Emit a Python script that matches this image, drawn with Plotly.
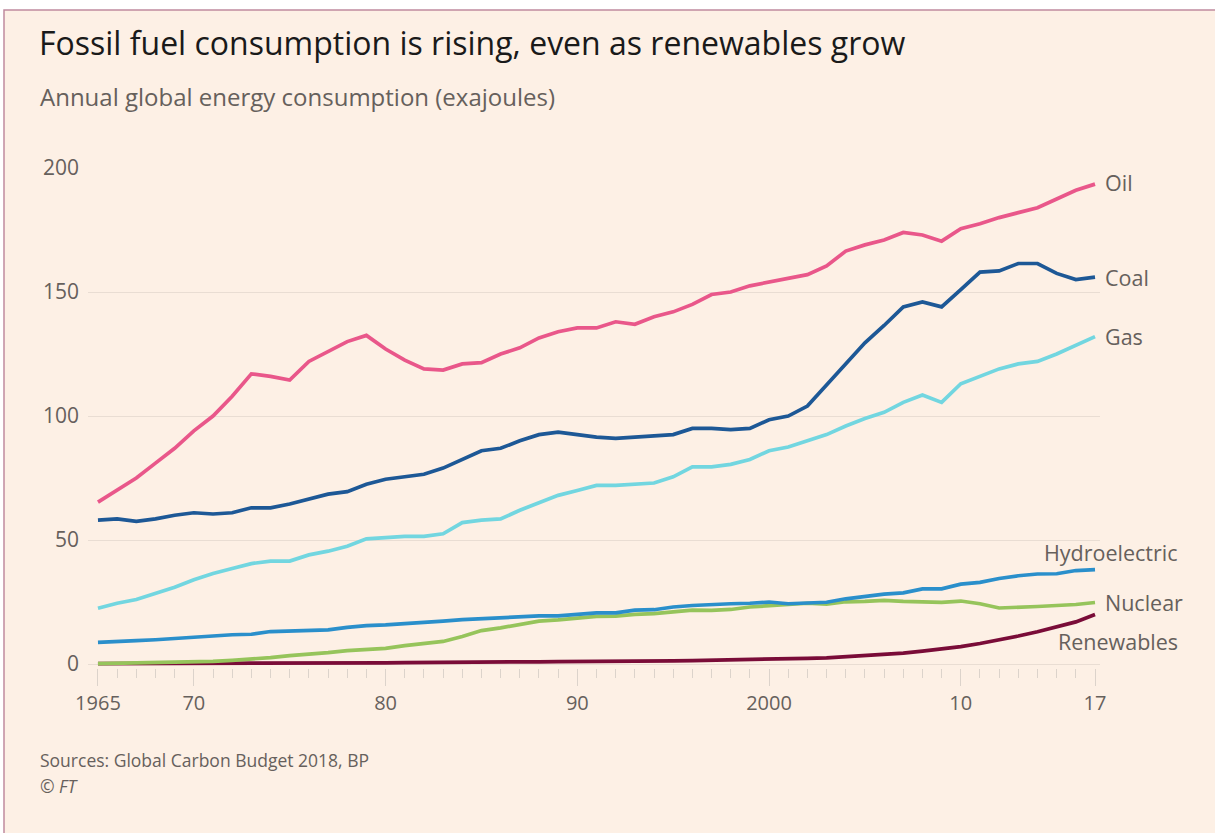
import plotly.graph_objects as go

years = list(range(1965, 2018))

oil = [65.3, 70, 75, 81, 87, 94, 100, 108, 117, 116, 114.5, 122, 126, 130, 132.5,
       127, 122.5, 119, 118.5, 121, 121.5, 125, 127.5, 131.5, 134, 135.5, 135.5, 138, 137, 140,
       142, 145, 149, 150, 152.5, 154, 155.5, 157, 160.5, 166.5, 169, 171, 174, 173, 170.5,
       175.5, 177.5, 180, 182, 184, 187.5, 191, 193.5]
coal = [58, 58.5, 57.5, 58.5, 60, 61, 60.5, 61, 63, 63, 64.5, 66.5, 68.5, 69.5, 72.5,
        74.5, 75.5, 76.5, 79, 82.5, 86, 87, 90, 92.5, 93.5, 92.5, 91.5, 91, 91.5, 92,
        92.5, 95, 95, 94.5, 95, 98.5, 100, 104, 112.5, 121, 129.5, 136.5, 144, 146, 144,
        151, 158, 158.5, 161.5, 161.5, 157.5, 155, 156]
gas = [22.5, 24.5, 26, 28.5, 31, 34, 36.5, 38.5, 40.5, 41.5, 41.5, 44, 45.5, 47.5, 50.5,
       51, 51.5, 51.5, 52.5, 57, 58, 58.5, 62, 65, 68, 70, 72, 72, 72.5, 73,
       75.5, 79.5, 79.5, 80.5, 82.5, 86, 87.5, 90, 92.5, 96, 99, 101.5, 105.5, 108.5, 105.5,
       113, 116, 119, 121, 122, 125, 128.5, 132]
hydro = [8.7, 9.2, 9.4, 9.8, 10.4, 10.9, 11.3, 11.8, 12.0, 13.1, 13.3, 13.4, 13.8, 14.8, 15.5,
         15.8, 16.2, 16.7, 17.3, 17.9, 18.3, 18.6, 18.8, 19.4, 19.4, 20.0, 20.6, 20.6, 21.7, 21.9,
         23.0, 23.6, 24.1, 24.3, 24.5, 25.0, 24.3, 24.6, 24.9, 26.3, 27.3, 28.2, 28.7, 30.3, 30.3,
         32.2, 32.9, 34.5, 35.6, 36.3, 36.4, 37.7, 38.1]
nuclear = [0.2, 0.3, 0.4, 0.5, 0.6, 0.8, 1.1, 1.5, 2.0, 2.6, 3.4, 3.9, 4.6, 5.4, 5.8,
           6.3, 7.4, 8.1, 9.1, 11.1, 13.5, 14.6, 15.9, 17.3, 17.8, 18.4, 19.2, 19.3, 20.0, 20.3,
           21.0, 21.7, 21.6, 22.0, 23.0, 23.5, 24.1, 24.5, 24.1, 25.1, 25.3, 25.7, 25.3, 25.2, 24.9,
           25.4, 24.3, 22.6, 22.8, 23.2, 23.6, 24.0, 24.8]
renewables = [0.2, 0.2, 0.2, 0.2, 0.3, 0.3, 0.3, 0.3, 0.3, 0.4, 0.4, 0.4, 0.4, 0.5, 0.5,
              0.5, 0.6, 0.6, 0.7, 0.7, 0.8, 0.8, 0.9, 0.9, 1.0, 1.0, 1.1, 1.1, 1.2, 1.3,
              1.3, 1.4, 1.5, 1.6, 1.7, 1.9, 2.0, 2.3, 2.5, 2.9, 3.3, 3.8, 4.4, 5.2, 6.0,
              7.0, 8.3, 9.7, 11.3, 13.0, 14.9, 17.0, 20.0]

series_names = ["Oil", "Coal", "Gas", "Hydroelectric", "Nuclear", "Renewables"]
series_values = [oil, coal, gas, hydro, nuclear, renewables]
series_colors = ["#e9578a", "#1d5896", "#72d6e0", "#2a8fcb", "#96c45b", "#7a0c38"]

x_tick_vals = [1965, 1970, 1980, 1990, 2000, 2010, 2017]
x_tick_text = ["1965", "70", "80", "90", "2000", "10", "17"]
y_tick_vals = [0, 50, 100, 150, 200]

GRAY = "#66605c"
FONT = "Open Sans"

fig = go.Figure()
for name, vals, col in zip(series_names[::-1], series_values[::-1], series_colors[::-1]):
    fig.add_trace(go.Scatter(x=years, y=vals, mode="lines", name=name,
                             line=dict(color=col, width=3.7), hoverinfo="x+y+name"))

W, H = 1215, 833
L, R, T, B = 88, 115, 168, 165

fig.update_layout(
    width=W, height=H,
    paper_bgcolor="white", plot_bgcolor="rgba(0,0,0,0)",
    margin=dict(l=L, r=R, t=T, b=B),
    showlegend=False,
    font=dict(family=FONT, color=GRAY, size=17),
    xaxis=dict(range=[1964.48, 2017.26], tickvals=x_tick_vals, ticktext=x_tick_text,
               showgrid=False, zeroline=False, showline=False,
               ticks="outside", ticklen=17, tickwidth=1, tickcolor="#dcd3cb",
               tickfont=dict(size=20, color=GRAY, family=FONT),
               minor=dict(dtick=1, tick0=1965, ticks="outside", ticklen=9, tickcolor="#dcd3cb",
                          tickwidth=1, showgrid=False)),
    yaxis=dict(range=[-1.6, 200], tickvals=y_tick_vals, showgrid=True,
               gridcolor="#e9ddd3", gridwidth=1.2, zeroline=False, showline=False,
               ticks="", ticklabelstandoff=8,
               tickfont=dict(size=21, color=GRAY, family=FONT)),
)

px_w = W - L - R
px_h = H - T - B
def paper_x(px):
    return (px - L) / px_w
def paper_y(py):
    return (H - B - py) / px_h

# FT panel background with border
fig.add_shape(type="rect", xref="paper", yref="paper", layer="below",
              x0=paper_x(4), x1=paper_x(W + 10), y0=paper_y(H + 10), y1=paper_y(10),
              fillcolor="#fdf0e5", line=dict(color="#c08a9e", width=1.5))

# Title, subtitle, footer
fig.add_annotation(text="Fossil fuel consumption is rising, even as renewables grow",
                   xref="paper", yref="paper", x=paper_x(37), y=paper_y(42),
                   xanchor="left", yanchor="middle", showarrow=False,
                   font=dict(size=32, color="#1a1a1a", family=FONT))
fig.add_annotation(text="Annual global energy consumption (exajoules)",
                   xref="paper", yref="paper", x=paper_x(38), y=paper_y(96),
                   xanchor="left", yanchor="middle", showarrow=False,
                   font=dict(size=24, color=GRAY, family=FONT))
fig.add_annotation(text="Sources: Global Carbon Budget 2018, BP",
                   xref="paper", yref="paper", x=paper_x(38), y=paper_y(760),
                   xanchor="left", yanchor="middle", showarrow=False,
                   font=dict(size=17.5, color=GRAY, family=FONT))
fig.add_annotation(text="© <i>FT</i>",
                   xref="paper", yref="paper", x=paper_x(38), y=paper_y(786),
                   xanchor="left", yanchor="middle", showarrow=False,
                   font=dict(size=17.5, color=GRAY, family=FONT))

# Series end labels
label_pos = {
    "Oil": ("left", 1103, oil[-1], 2),
    "Coal": ("left", 1103, coal[-1], 0),
    "Gas": ("left", 1103, gas[-1], 0),
    "Hydroelectric": ("right", 1180, hydro[-1], 17),
    "Nuclear": ("left", 1103, nuclear[-1], 0),
    "Renewables": ("right", 1180, renewables[-1], -27),
}
for name, (anchor, px, val, yshift) in label_pos.items():
    fig.add_annotation(text=name, xref="paper", yref="y", x=paper_x(px), y=val,
                       xanchor=anchor, yanchor="middle", showarrow=False, yshift=yshift,
                       font=dict(size=21.5, color=GRAY, family=FONT))

fig.write_html("out.html", config={"displayModeBar": False},
               post_script="document.body.style.margin='0';")
